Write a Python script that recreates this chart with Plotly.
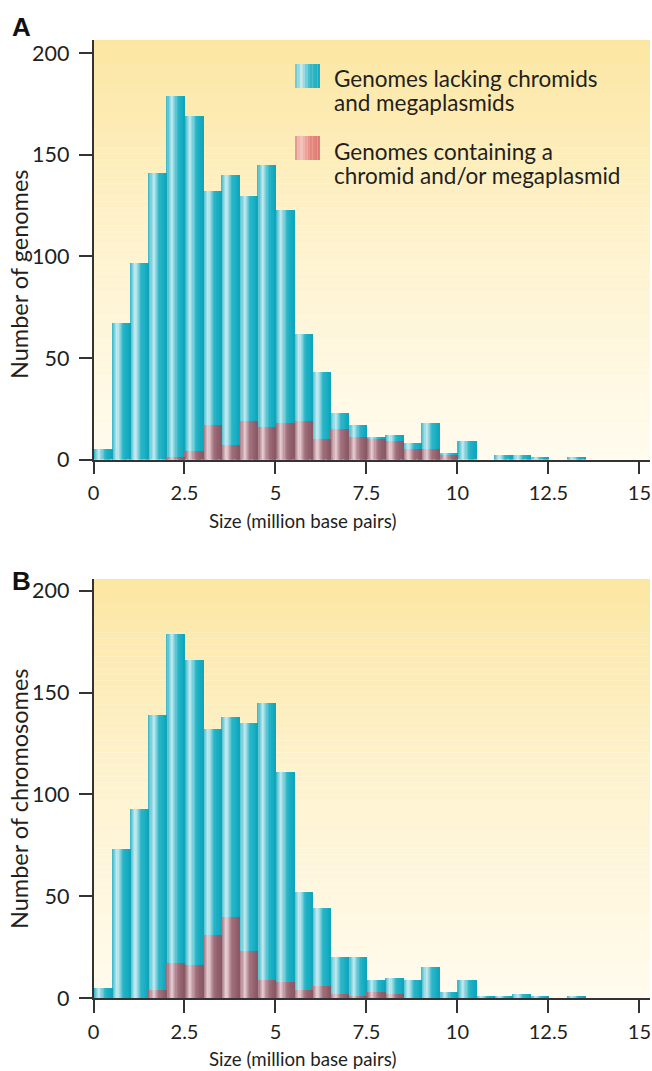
import plotly.graph_objects as go

# ---------------- data ----------------
bin_starts = [0.0, 0.5, 1.0, 1.5, 2.0, 2.5, 3.0, 3.5, 4.0, 4.5, 5.0, 5.5, 6.0, 6.5,
              7.0, 7.5, 8.0, 8.5, 9.0, 9.5, 10.0, 10.5, 11.0, 11.5, 12.0, 12.5, 13.0]
bin_width = 0.5

a_lacking = [5, 67, 97, 141, 179, 169, 132, 140, 130, 145, 123, 62, 43, 23,
             17, 11, 12, 8, 18, 3, 9, 0, 2, 2, 1, 0, 1]
a_containing = [0, 0, 0, 0, 1, 4, 17, 7, 19, 16, 18, 19, 10, 15,
                11, 10, 9, 5, 5, 2, 0, 0, 0, 0, 0, 0, 0]

b_lacking = [5, 73, 93, 139, 179, 166, 132, 138, 135, 145, 111, 52, 44, 20,
             20, 9, 10, 9, 15, 3, 9, 1, 1, 2, 1, 0, 1]
b_containing = [0, 0, 0, 4, 17, 16, 31, 40, 23, 9, 8, 4, 6, 2,
                1, 3, 2, 0, 0, 0, 0, 0, 0, 0, 0, 0, 0]

x_tick_vals = [0, 2.5, 5, 7.5, 10, 12.5, 15]
x_tick_text = ["0", "2.5", "5", "7.5", "10", "12.5", "15"]
y_tick_vals = [0, 50, 100, 150, 200]
y_tick_text = ["0", "50", "100", "150", "200"]

legend_labels = [["Genomes lacking chromids", "and megaplasmids"],
                 ["Genomes containing a", "chromid and/or megaplasmid"]]
x_title = "Size (million base pairs)"
y_titles = ["Number of genomes", "Number of chromosomes"]
panel_labels = ["A", "B"]

# ---------------- style helpers ----------------
W, H = 652, 1071
FONT = "Lato"
TXT = "#231F20"
AX = "#333333"


def hex2rgb(h):
    h = h.lstrip("#")
    return tuple(int(h[i:i + 2], 16) for i in (0, 2, 4))


def lerp_color(stops, t):
    for (t0, c0), (t1, c1) in zip(stops[:-1], stops[1:]):
        if t0 <= t <= t1:
            f = 0 if t1 == t0 else (t - t0) / (t1 - t0)
            a, b = hex2rgb(c0), hex2rgb(c1)
            return "rgb(%d,%d,%d)" % tuple(round(a[k] + (b[k] - a[k]) * f) for k in range(3))
    return "rgb(%d,%d,%d)" % hex2rgb(stops[-1][1])


BLUE_STOPS = [(0.0, "#2DB4C6"), (0.12, "#6ECBD8"), (0.3, "#C6EBF1"), (0.48, "#74CDDA"),
              (0.62, "#2BB5C8"), (0.85, "#16ADC2"), (1.0, "#0FA3B9")]
RED_STOPS = [(0.0, "#946571"), (0.12, "#B68D97"), (0.3, "#E8D1D6"), (0.48, "#BD959E"),
             (0.62, "#A0707C"), (0.85, "#91606C"), (1.0, "#875763")]
BG_STOPS = [(0.0, "#FFFBEE"), (0.5, "#FEF3CF"), (1.0, "#FCE6A2")]
LEG_BLUE = [(0.0, "#5CC5D3"), (0.25, "#C2EAF0"), (0.6, "#35B9CB"), (1.0, "#17ADC2")]
LEG_RED = [(0.0, "#E58E87"), (0.22, "#F3C8C1"), (0.6, "#E78A83"), (1.0, "#E27A74")]

N_STRIPES = 16


def px_x(p):
    return p / W


def px_y(p):
    return 1 - p / H


panels = [
    dict(lacking=a_lacking, containing=a_containing, top=40, bottom=459.5, ymax=206.6,
         xa="x", ya="y"),
    dict(lacking=b_lacking, containing=b_containing, top=579, bottom=998, ymax=205.8,
         xa="x2", ya="y2"),
]

fig = go.Figure()
centers = [s + bin_width / 2 for s in bin_starts]
sw = bin_width / N_STRIPES

for p in panels:
    for values, stops in ((p["lacking"], BLUE_STOPS), (p["containing"], RED_STOPS)):
        for i in range(N_STRIPES):
            t = (i + 0.5) / N_STRIPES
            fig.add_trace(go.Bar(
                x=centers, y=values,
                width=sw * 1.1, offset=-bin_width / 2 + i * sw,
                marker=dict(color=lerp_color(stops, t), line=dict(width=0)),
                xaxis=p["xa"], yaxis=p["ya"], showlegend=False, hoverinfo="skip",
            ))

shapes = []
annotations = []

x_dom = [px_x(93.5), px_x(650)]
for k, p in enumerate(panels):
    # background gradient
    n = 70
    y0p, y1p = px_y(p["bottom"]), px_y(p["top"])
    for j in range(n):
        a = y0p + (y1p - y0p) * j / n
        b = y0p + (y1p - y0p) * (j + 1.02) / n
        shapes.append(dict(type="rect", xref="paper", yref="paper", x0=x_dom[0], x1=x_dom[1],
                           y0=a, y1=min(b, y1p), fillcolor=lerp_color(BG_STOPS, (j + 0.5) / n),
                           line=dict(width=0), layer="below"))
    axis_y = p["bottom"]
    annotations.append(dict(text=x_title, x=px_x(302), y=px_y(axis_y + 61), xref="paper",
                            yref="paper", showarrow=False, xanchor="center", yanchor="middle",
                            font=dict(size=18.7, color=TXT, family=FONT)))
    annotations.append(dict(text=y_titles[k], x=px_x(19), y=px_y([275, 799][k]), xref="paper",
                            yref="paper", showarrow=False, textangle=-90, xanchor="center",
                            yanchor="middle", font=dict(size=23.5, color=TXT, family=FONT)))
    annotations.append(dict(text="<b>%s</b>" % panel_labels[k], x=px_x(21), y=px_y([27, 581][k]),
                            xref="paper", yref="paper", showarrow=False, xanchor="center",
                            yanchor="middle",
                            font=dict(size=26, color="#111111", family="Liberation Sans")))

# legend (panel A)
for (sy0, sy1), stops in (((64, 88), LEG_BLUE), ((136, 160), LEG_RED)):
    n = 10
    for j in range(n):
        xa = 295 + 25 * j / n
        xb = 295 + 25 * (j + 1.05) / n
        shapes.append(dict(type="rect", xref="paper", yref="paper", x0=px_x(xa), x1=px_x(min(xb, 320)),
                           y0=px_y(sy1), y1=px_y(sy0), fillcolor=lerp_color(stops, (j + 0.5) / n),
                           line=dict(width=0), layer="above"))
for lines, ys in zip(legend_labels, ([79, 103], [152, 176])):
    for line, yy in zip(lines, ys):
        annotations.append(dict(text=line, x=px_x(332), y=px_y(yy), xref="paper", yref="paper",
                                showarrow=False, xanchor="left", yanchor="middle",
                                font=dict(size=22.5, color=TXT, family=FONT)))

axis_common = dict(showgrid=False, zeroline=False, showline=True, linecolor=AX, linewidth=1.5,
                   ticks="outside", ticklen=13, tickwidth=1.5, tickcolor=AX, automargin=False)

layout_axes = {}
for k, p in enumerate(panels):
    sfx = "" if k == 0 else "2"
    layout_axes["xaxis" + sfx] = dict(axis_common, domain=x_dom, range=[0, 15.29],
                                      tickvals=x_tick_vals, ticktext=x_tick_text,
                                      tickfont=dict(size=20, color=TXT, family=FONT),
                                      ticklabelstandoff=2,
                                      anchor="y" + sfx, fixedrange=True)
    layout_axes["yaxis" + sfx] = dict(axis_common, domain=[px_y(p["bottom"]), px_y(p["top"])],
                                      range=[0, p["ymax"]], tickvals=y_tick_vals,
                                      ticktext=y_tick_text, anchor="x" + sfx,
                                      tickfont=dict(size=21.5, color=TXT, family=FONT),
                                      ticklabelstandoff=5, fixedrange=True)

fig.update_layout(
    width=W, height=H, margin=dict(l=0, r=0, t=0, b=0, autoexpand=False),
    paper_bgcolor="white", plot_bgcolor="white",
    barmode="overlay", bargap=0,
    shapes=shapes, annotations=annotations,
    font=dict(family=FONT, color=TXT),
    **layout_axes,
)

fig.write_html("out.html", config={"displayModeBar": False},
               post_script="document.body.style.margin='0';")
